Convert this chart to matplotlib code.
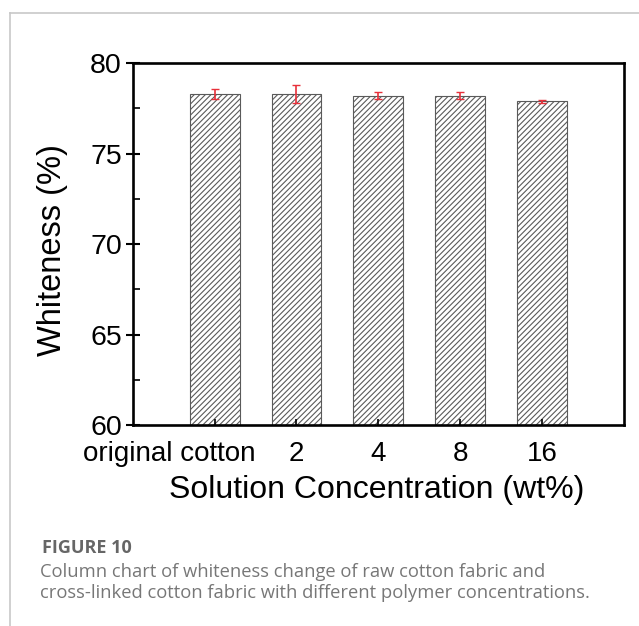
import numpy as np
import matplotlib
matplotlib.use("Agg")
import matplotlib.pyplot as plt
import matplotlib.transforms as mtransforms
from matplotlib.lines import Line2D

# whiteness of the untreated fabric and the cross-linked samples
categories = ["original cotton", "2", "4", "8", "16"]
whiteness = [78.3, 78.3, 78.2, 78.2, 77.9]
whiteness_err = [0.28, 0.5, 0.2, 0.2, 0.08]
y_ticks = [60, 65, 70, 75, 80]
y_minor = [62.5, 67.5, 72.5, 77.5]

plt.rcParams["font.family"] = ["Liberation Sans", "DejaVu Sans"]
plt.rcParams["hatch.color"] = "#3a3a3a"
plt.rcParams["hatch.linewidth"] = 0.8

fig = plt.figure(figsize=(6.39, 6.26), dpi=100)

# thin grey frame around the figure panel
fig.add_artist(Line2D([0.015, 1.0], [0.979, 0.979], color="#c8c8c8", lw=1.2))
fig.add_artist(Line2D([0.015, 0.015], [0.0, 0.979], color="#c8c8c8", lw=1.2))

ax = fig.add_axes([0.208, 0.321, 0.768, 0.578])
x = np.arange(len(categories))
ax.bar(x, [v - 60 for v in whiteness], bottom=60, width=0.61,
       color="white", edgecolor="#5a5a5a", linewidth=0.8, hatch="//////")
ax.errorbar(x, whiteness, yerr=whiteness_err, fmt="none", ecolor="#e8303a",
            elinewidth=1.2, capsize=3, capthick=1.0)

ax.set_xlim(-1, 5)
ax.set_ylim(60, 80)
ax.set_xticks(x)
ax.set_xticklabels(categories)
ax.set_yticks(y_ticks)
ax.set_yticks(y_minor, minor=True)
ax.tick_params(axis="y", which="major", direction="inout", length=10, width=1.5,
               labelsize=20.5, pad=3)
ax.tick_params(axis="y", which="minor", direction="in", length=5, width=1.2)
ax.tick_params(axis="x", direction="in", length=4, width=1.2, labelsize=20, pad=11.5)
for s in ax.spines.values():
    s.set_linewidth(1.9)

# the long first label sits left of its tick so it clears the "2"
first = ax.get_xticklabels()[0]
first.set_horizontalalignment("right")
first.set_transform(first.get_transform() +
                    mtransforms.ScaledTranslation(0.405, 0, fig.dpi_scale_trans))

ax.set_ylabel("Whiteness (%)", fontsize=23.5)
ax.yaxis.set_label_coords(-0.132, 0.483)
ax.set_xlabel("Solution Concentration (wt%)", fontsize=23)
ax.xaxis.set_label_coords(0.497, -0.138)

# caption underneath
cap_font = ["Open Sans", "DejaVu Sans"]
fig.text(0.065, 0.1166, "FIGURE 10", fontsize=13, fontweight="bold",
         color="#666666", family=cap_font, va="baseline")
fig.text(0.063, 0.0783, "Column chart of whiteness change of raw cotton fabric and",
         fontsize=13.2, color="#777777", family=cap_font, va="baseline")
fig.text(0.063, 0.0447, "cross-linked cotton fabric with different polymer concentrations.",
         fontsize=13.2, color="#777777", family=cap_font, va="baseline")

fig.savefig("out.png", dpi=100)
